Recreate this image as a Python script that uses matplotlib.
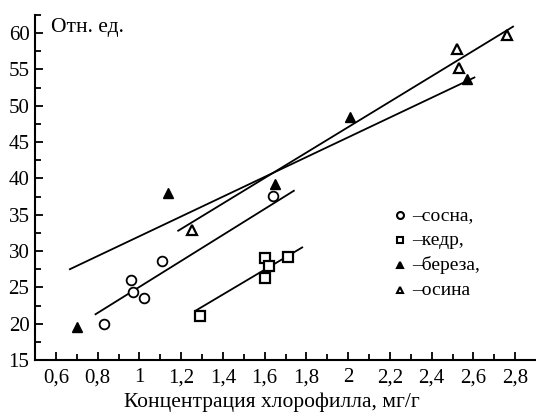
import matplotlib.pyplot as plt

plt.rcParams['font.family'] = ['Liberation Serif', 'DejaVu Serif']

# Data
sosna_x = [0.83, 0.96, 0.97, 1.02, 1.11, 1.64]
sosna_y = [20.0, 26.0, 24.4, 23.5, 28.6, 37.6]
kedr_x = [1.29, 1.60, 1.62, 1.60, 1.71]
kedr_y = [21.1, 29.1, 27.9, 26.3, 29.2]
bereza_x = [0.70, 1.135, 1.65, 2.01, 2.57]
bereza_y = [19.6, 38.0, 39.3, 48.5, 53.7]
osina_x = [1.25, 2.52, 2.53, 2.76]
osina_y = [32.9, 57.8, 55.2, 59.8]

# Fitted lines (end points)
sosna_fit_x = [0.79, 1.74]
sosna_fit_y = [21.3, 38.3]
kedr_fit_x = [1.27, 1.78]
kedr_fit_y = [21.8, 30.5]
bereza_fit_x = [0.667, 2.605]
bereza_fit_y = [27.5, 53.9]
osina_fit_x = [1.186, 2.79]
osina_fit_y = [32.8, 60.9]

labels = ['–сосна,', '–кедр,', '–береза,', '–осина']
xticks = [0.6, 0.8, 1.0, 1.2, 1.4, 1.6, 1.8, 2.0, 2.2, 2.4, 2.6, 2.8]
xticklabels = ['0,6', '0,8', '1', '1,2', '1,4', '1,6', '1,8', '2', '2,2', '2,4', '2,6', '2,8']

fig = plt.figure(figsize=(5.36, 4.12), dpi=100)
ax = fig.add_axes([35/536, 52/412, 1 - 35/536, (360 - 15)/412])

# Lines
for fx, fy in [(sosna_fit_x, sosna_fit_y), (kedr_fit_x, kedr_fit_y),
               (bereza_fit_x, bereza_fit_y), (osina_fit_x, osina_fit_y)]:
    ax.plot(fx, fy, color='black', lw=1.3)

# Points
ax.plot(sosna_x, sosna_y, 'o', ms=7, mfc='white', mec='black', mew=1.3)
ax.plot(kedr_x, kedr_y, 's', ms=6.5, mfc='white', mec='black', mew=1.6)
ax.plot(bereza_x, bereza_y, '^', ms=7.5, mfc='black', mec='black')
ax.plot(osina_x, osina_y, '^', ms=7, mfc='white', mec='black', mew=1.6)

# Legend drawn by hand
leg_markers = [('o', 'white'), ('s', 'white'), ('^', 'black'), ('^', 'white')]
for i, ((m, fc), lab) in enumerate(zip(leg_markers, labels)):
    yy = 0.420 - i * 0.0725
    ax.plot([0.729], [yy], m, ms=5, mfc=fc, mec='black', mew=1.5, transform=ax.transAxes)
    ax.text(0.753, yy, lab, fontsize=14, va='center', ha='left', transform=ax.transAxes)

ax.text(0.032, 0.965, 'Отн. ед.', fontsize=15.5, va='center', ha='left', transform=ax.transAxes)

ax.set_xlim(0.5, 2.9)
ax.set_ylim(15, 62.5)
ax.set_xticks(xticks)
ax.set_xticklabels(xticklabels)
ax.set_xticks([x / 10 for x in range(5, 29, 2)], minor=True)
ax.set_yticks(range(15, 61, 5))
ax.set_yticks([17.5 + 5 * i for i in range(10)], minor=True)
ax.tick_params(direction='in', labelsize=15, width=1.3, length=6, pad=4)
ax.tick_params(axis='x', pad=6)
ax.tick_params(which='minor', direction='in', width=1.3, length=4)
ax.spines['top'].set_visible(False)
ax.spines['right'].set_visible(False)
ax.spines['left'].set_linewidth(1.5)
ax.spines['bottom'].set_linewidth(1.5)
ax.set_xlabel('Концентрация хлорофилла, мг/г', fontsize=15.5)
ax.xaxis.set_label_coords(0.473, -0.095)

fig.savefig('out.png', dpi=100)
